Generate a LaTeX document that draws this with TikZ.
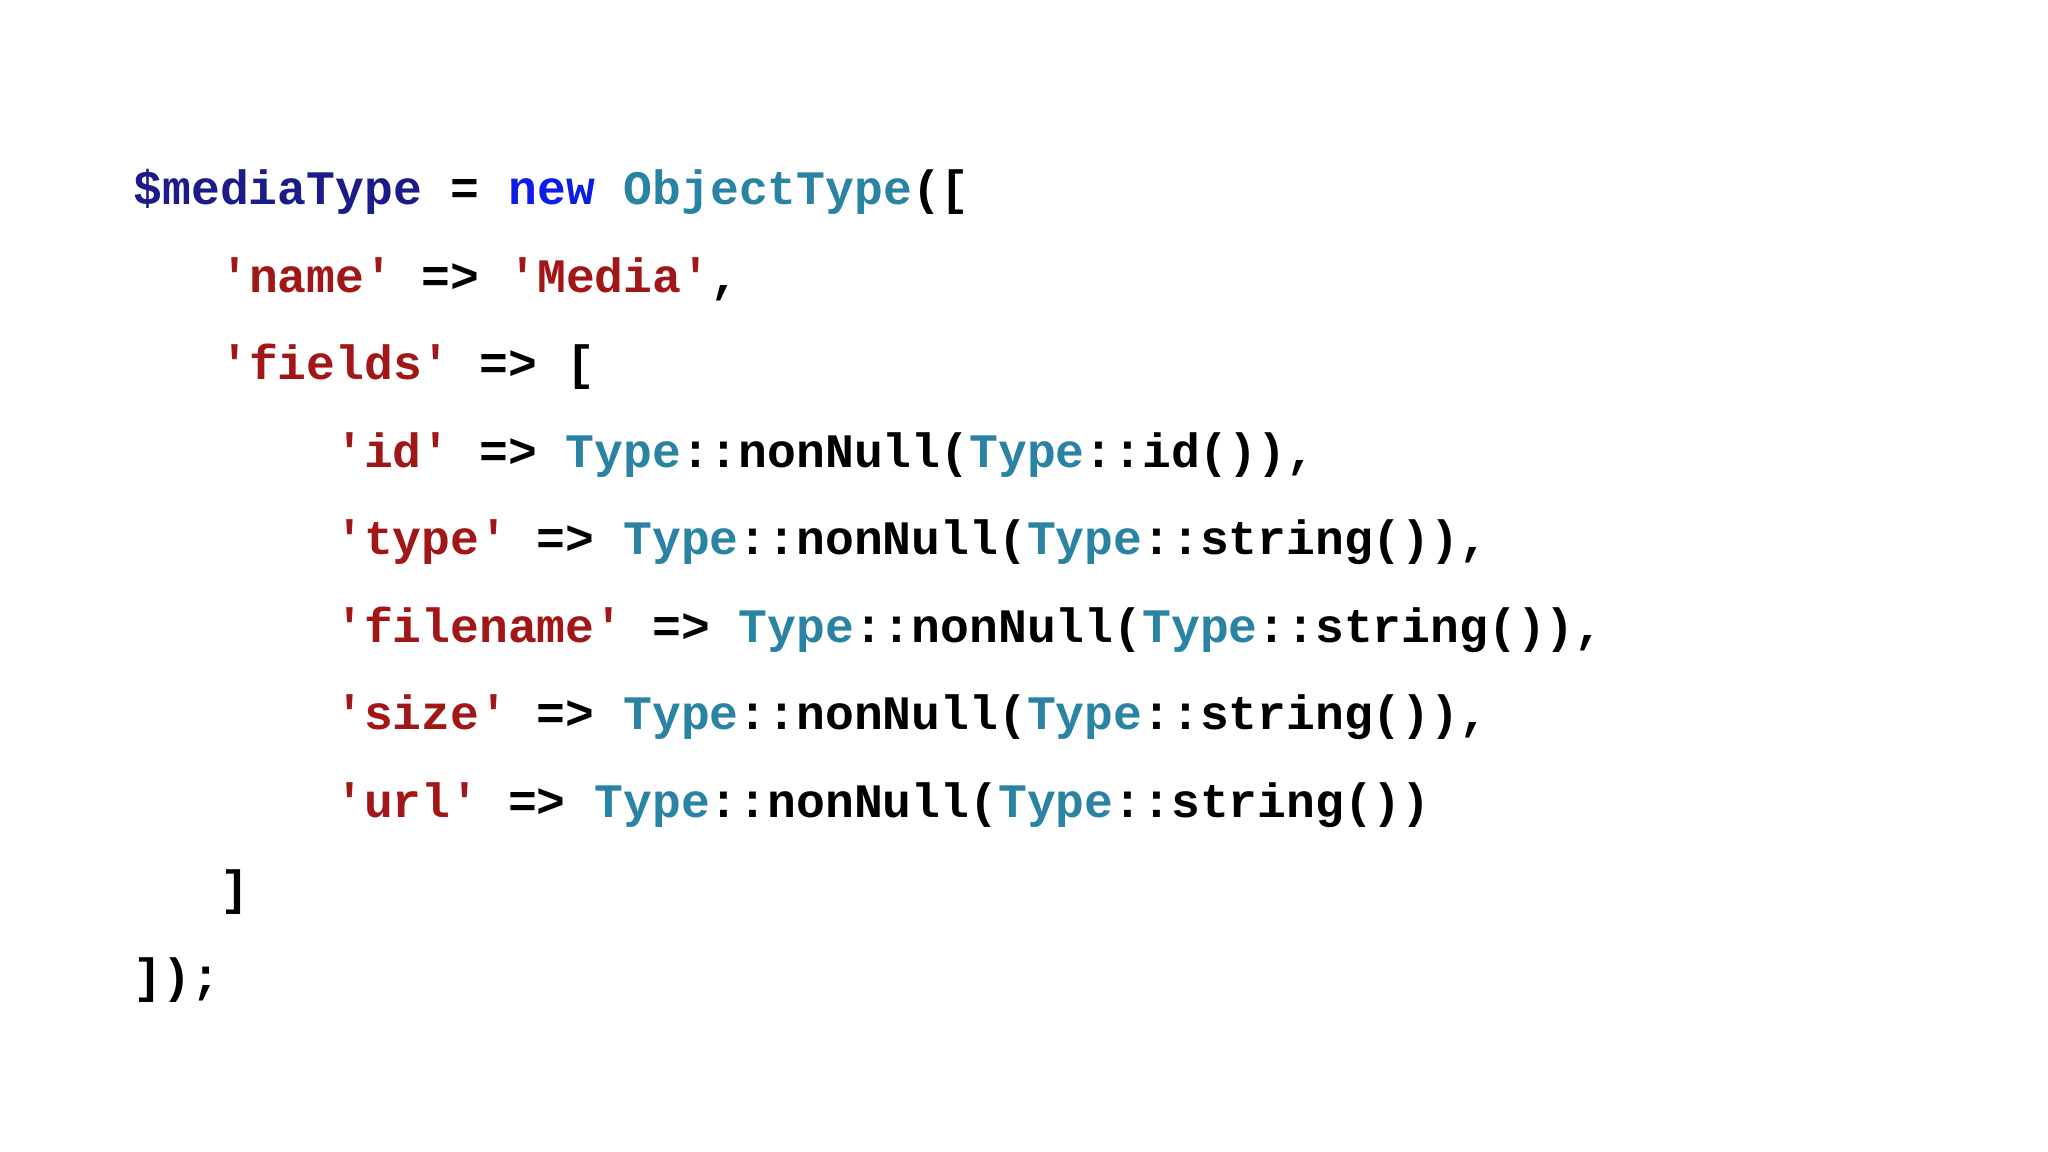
\documentclass[tikz,border=0pt]{standalone}
\usepackage{fontspec}
\newfontfamily\codefont{Liberation Mono}
\definecolor{navy}{HTML}{1B1B8A}
\definecolor{kw}{HTML}{0A1EE6}
\definecolor{teal}{HTML}{2A83A3}
\definecolor{str}{HTML}{A11616}
\newcommand{\cT}[1]{\textcolor{teal}{#1}}
\newcommand{\cS}[1]{\textcolor{str}{#1}}
\tikzset{codeline/.style={anchor=base west,inner sep=0pt,font=\codefont\bfseries\fontsize{13.66pt}{16pt}\selectfont,text=black}}
\begin{document}
\begin{tikzpicture}[x=0.01cm,y=0.01cm]
\useasboundingbox[fill=white] (0,0) rectangle (2048,1152);
\node[codeline] (l1) at (133,{1152-205}) {\textcolor{navy}{\$mediaType} = \textcolor{kw}{new} \cT{ObjectType}([};
\node[codeline] (l2) at (219.5,{1152-292.5}) {\cS{'name'} => \cS{'Media'},};
\node[codeline] (l3) at (219.5,{1152-380}) {\cS{'fields'} => [};
\node[codeline] (l4) at (334.5,{1152-467.5}) {\cS{'id'} => \cT{Type}::nonNull(\cT{Type}::id()),};
\node[codeline] (l5) at (334.5,{1152-555}) {\cS{'type'} => \cT{Type}::nonNull(\cT{Type}::string()),};
\node[codeline] (l6) at (334.5,{1152-642.5}) {\cS{'filename'} => \cT{Type}::nonNull(\cT{Type}::string()),};
\node[codeline] (l7) at (334.5,{1152-730}) {\cS{'size'} => \cT{Type}::nonNull(\cT{Type}::string()),};
\node[codeline] (l8) at (334.5,{1152-817.5}) {\cS{'url'} => \cT{Type}::nonNull(\cT{Type}::string())};
\node[codeline] (l9) at (219.5,{1152-905}) {]};
\node[codeline] (l10) at (133,{1152-992.5}) {]);};
\end{tikzpicture}
\end{document}
